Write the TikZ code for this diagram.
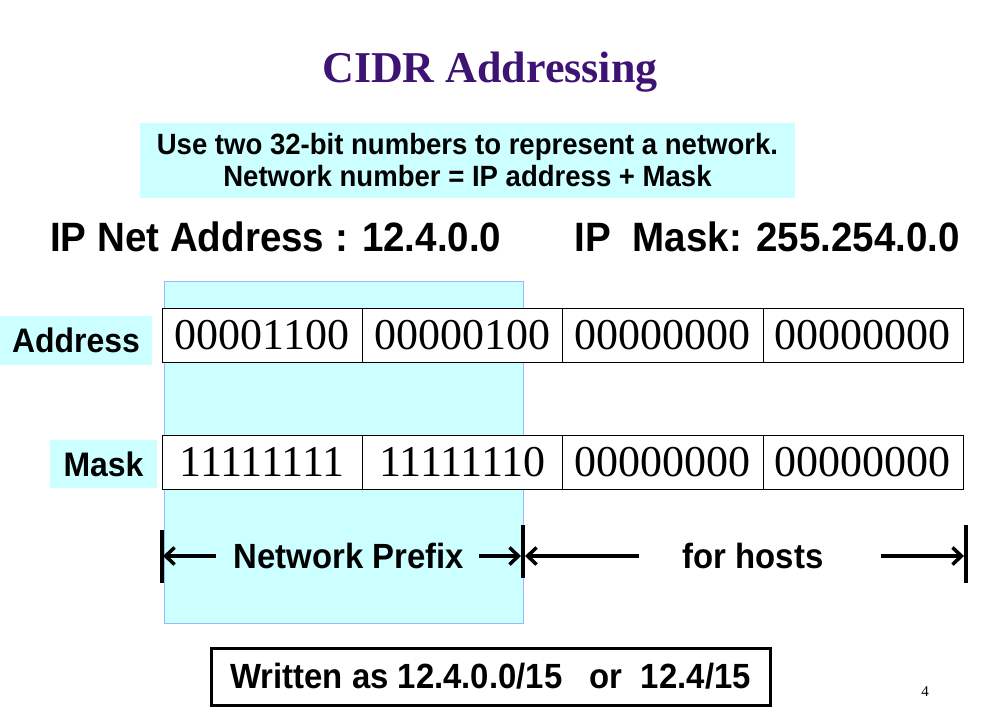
\documentclass[tikz,border=0pt]{standalone}
\usepackage{fontspec}
\setmainfont{Liberation Serif}
\setsansfont[FakeStretch=0.94]{Liberation Sans}
\usetikzlibrary{arrows,arrows.meta,positioning}
\definecolor{paleCyan}{rgb}{0.8, 1.0, 1.0}
\definecolor{titlePurple}{rgb}{0.24, 0.08, 0.45}
\definecolor{edgeBlue}{rgb}{0.6, 0.72, 1.0}

\begin{document}
\begin{tikzpicture}[x=1pt, y=-1pt,
			hl/.style={fill=paleCyan, inner sep=0pt, font=\sffamily\bfseries\fontsize{34}{34}\selectfont},
			cell/.style={draw, thin, fill=white, minimum width=200.25pt, minimum height=54pt, inner sep=0pt, font=\fontsize{44}{44}\selectfont},
			title/.style={font=\sffamily\bfseries\fontsize{41}{41}\selectfont, inner sep=0pt},
			textbox/.style={inner sep=0pt, font=\sffamily\bfseries\fontsize{35}{35}\selectfont},
			bar/.style={line width=3.5pt},
			arrowStrong/.style={line width=3.5pt,-{Straight Barb[length=9pt,width=17pt]}},
			]
			\useasboundingbox (0,0) rectangle (981,718);
			
			% heading
			\draw node[font=\bfseries\fontsize{44}{44}\selectfont, text=titlePurple] (heading) at (490,72) {CIDR Addressing};
			\draw node[fill=paleCyan, minimum width=655pt, minimum height=75pt, align=center, inner sep=0pt,
				font=\sffamily\bfseries\fontsize{29.3}{32}\selectfont] (intro) at (467.5,160.5)
				{Use two 32-bit numbers to represent a network.\\Network number = IP address + Mask};
			\draw node[title, anchor=west] (netAddr) at (50,237) {IP Net Address : 12.4.0.0};
			\draw node[title, anchor=east] (netMask) at (960,237) {IP\ \ Mask: 255.254.0.0};
			
			% prefix area
			\draw node[draw=edgeBlue, fill=paleCyan, minimum width=359pt, minimum height=342pt] (prefix) at (343.5,452) {};
			
			% rows
			\draw node[hl, minimum width=152pt, minimum height=49pt] (addrLabel) at (76,340.5) {Address};
			\foreach \v [count=\i] in {00001100,00000100,00000000,00000000}
			{\draw node[cell](addr\i) at ({162+(\i-0.5)*200.25}, 335) {\raisebox{-2pt}{\v}};}
			
			\draw node[hl, minimum width=107pt, minimum height=48pt] (maskLabel) at (103.5,464) {Mask};
			\foreach \v [count=\i] in {11111111,11111110,00000000,00000000}
			{\draw node[cell](mask\i) at ({162+(\i-0.5)*200.25}, 462) {\raisebox{-2pt}{\v}};}
			
			% bars
			\coordinate (barL) at (162,556);
			\coordinate (barM) at (523,551);
			\coordinate (barR) at (966,554);
			\draw [bar] (barL) ++(0,-26) -- ++(0,53);
			\draw [bar] (barM) ++(0,-26) -- ++(0,53);
			\draw [bar] (barR) ++(0,-29) -- ++(0,58);
			
			\draw node[textbox] (prefixText) at (349,556) {Network Prefix};
			\draw node[textbox] (hostsText) at (753,556) {for hosts};
			
			% Arrow
			\draw [arrowStrong, shorten <=18pt, shorten >=1pt] (prefixText.west) -- (prefixText.west -| barL);
			\draw [arrowStrong, shorten <=15pt, shorten >=2pt] (prefixText.east) -- (prefixText.east -| barM);
			\draw [arrowStrong, shorten <=43pt, shorten >=2pt] (hostsText.west) -- (hostsText.west -| barM);
			\draw [arrowStrong, shorten <=57pt, shorten >=2pt] (hostsText.east) -- (hostsText.east -| barR);
			
			% notation
			\draw node[draw, line width=3pt, minimum width=559pt, minimum height=57pt, textbox] (written) at (490.5,676.5)
				{Written as 12.4.0.0/15\ \ \ or\ \ 12.4/15};
			\draw node[font=\fontsize{15}{15}\selectfont, inner sep=0pt] (pageNo) at (925,692) {4};
		\end{tikzpicture}
\end{document}
